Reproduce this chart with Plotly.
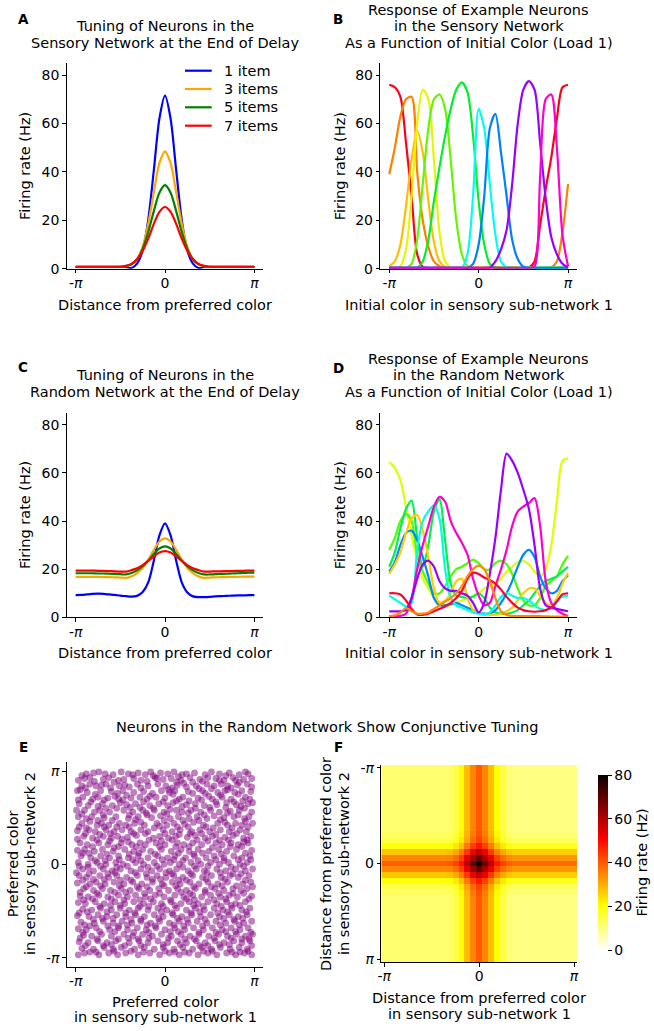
import plotly.graph_objects as go

W, H = 654, 1031
FONT = "DejaVu Sans"

# ---------------- data (angles in units of pi) ----------------
X = [-1.0, -0.9375, -0.875, -0.8125, -0.75, -0.6875, -0.625, -0.5625, -0.5, -0.4375,
     -0.375, -0.3125, -0.25, -0.1875, -0.125, -0.0625, 0.0, 0.0625, 0.125, 0.1875,
     0.25, 0.3125, 0.375, 0.4375, 0.5, 0.5625, 0.625, 0.6875, 0.75, 0.8125, 0.875, 0.9375, 1.0]

load_names = ["1 item", "3 items", "5 items", "7 items"]
load_colors = ["#0000FF", "#FFA500", "#008000", "#FF0000"]

A_1 = [0.7, 0.7, 0.7, 0.7, 0.7, 0.7, 0.7, 0.7, 0.7, 0.7, 0.3, 2.1, 7.5, 20.2, 40.7, 62, 71.5,
       62, 40.7, 20.2, 7.5, 2.1, 0.3, 0.7, 0.7, 0.7, 0.7, 0.7, 0.7, 0.7, 0.7, 0.7, 0.7]
A_3 = [0.8, 0.8, 0.8, 0.8, 0.8, 0.8, 0.8, 0.8, 0.8, 1.0, 1.7, 4.0, 9.1, 18.6, 31.6, 43.6, 48.5,
       43.6, 31.6, 18.6, 9.1, 4.0, 1.7, 1.0, 0.8, 0.8, 0.8, 0.8, 0.8, 0.8, 0.8, 0.8, 0.8]
A_5 = [0.8, 0.8, 0.8, 0.8, 0.8, 0.8, 0.8, 0.8, 0.8, 1.1, 1.9, 3.9, 8.2, 15.1, 23.8, 31.4, 34.5,
       31.4, 23.8, 15.1, 8.2, 3.9, 1.9, 1.1, 0.8, 0.8, 0.8, 0.8, 0.8, 0.8, 0.8, 0.8, 0.8]
A_7 = [0.8, 0.8, 0.8, 0.8, 0.8, 0.8, 0.8, 0.8, 0.8, 1.2, 2.0, 3.9, 7.3, 12.4, 18.5, 23.5, 25.5,
       23.5, 18.5, 12.4, 7.3, 3.9, 2.0, 1.2, 0.8, 0.8, 0.8, 0.8, 0.8, 0.8, 0.8, 0.8, 0.8]

C_1 = [9.2, 9.3, 9.5, 9.7, 9.8, 9.7, 9.5, 9.3, 9.0, 8.8, 8.6, 8.9, 10.5, 14.5, 23.5, 34, 39,
       34, 23.5, 14.5, 10.3, 8.7, 8.4, 8.4, 8.5, 8.7, 8.8, 8.9, 9.0, 9.1, 9.1, 9.2, 9.2]
C_3 = [16.8, 16.8, 16.8, 16.8, 16.8, 16.7, 16.7, 16.6, 16.5, 16.4, 17.0, 18.4, 20.5, 24.0, 28.0, 31.5, 32.8,
       31.5, 28.0, 24.0, 20.5, 18.4, 17.0, 16.4, 16.5, 16.6, 16.7, 16.7, 16.8, 16.8, 16.9, 16.9, 16.9]
C_5 = [18.3, 18.3, 18.3, 18.3, 18.2, 18.2, 18.1, 18.0, 17.9, 17.8, 18.4, 19.5, 21.2, 23.5, 26.3, 28.6, 29.5,
       28.6, 26.3, 23.5, 21.2, 19.5, 18.4, 17.8, 17.8, 17.9, 18.0, 18.1, 18.2, 18.3, 18.4, 18.5, 18.6]
C_7 = [19.4, 19.4, 19.4, 19.4, 19.3, 19.3, 19.2, 19.1, 19.0, 19.0, 19.6, 20.4, 21.7, 23.4, 25.3, 26.9, 27.5,
       26.9, 25.3, 23.4, 21.7, 20.4, 19.6, 19.0, 19.0, 19.1, 19.1, 19.2, 19.2, 19.3, 19.3, 19.4, 19.4]

# Panel B: example sensory neurons
B_colors = ["#FF0019", "#FF8000", "#FFBF00", "#E6F500", "#66F500", "#00F02A",
            "#00FFF0", "#0080FF", "#9900FF", "#FF00CC"]
B_red = [76, 75, 71, 52, 30, 6, 0.8, 0.3, 0.3, 0.3, 0.3, 0.3, 0.3, 0.3, 0.3, 0.3, 0.3,
         0.3, 0.3, 0.3, 0.3, 0.3, 0.3, 0.3, 0.3, 0.5, 3, 18, 33, 46, 62, 75, 76]
B_orange = [39, 50, 63, 70, 71, 40, 20, 9, 3, 1, 0.4, 0.3, 0.3, 0.3, 0.3, 0.3, 0.3,
            0.3, 0.3, 0.3, 0.3, 0.3, 0.3, 0.3, 0.3, 0.3, 0.3, 0.3, 0.3, 0.5, 3, 15, 35]
B_gold = [1, 3, 10, 26, 45, 57, 48, 28, 11, 3, 0.8, 0.3, 0.3, 0.3, 0.3, 0.3, 0.3,
          0.3, 0.3, 0.3, 0.3, 0.3, 0.3, 0.3, 0.3, 0.3, 0.3, 0.3, 0.3, 0.3, 0.5, 0.8, 1]
B_yellow = [0.3, 0.3, 1, 8, 30, 60, 74, 70, 45, 15, 3, 0.5, 0.3, 0.3, 0.3, 0.3, 0.3,
            0.3, 0.3, 0.3, 0.3, 0.3, 0.3, 0.3, 0.3, 0.3, 0.3, 0.3, 0.3, 0.3, 0.3, 0.3, 0.3]
B_lime = [0.3, 0.3, 0.3, 0.3, 2, 12, 35, 58, 70, 72, 66, 45, 20, 6, 1, 0.3, 0.3,
          0.3, 0.3, 0.3, 0.3, 0.3, 0.3, 0.3, 0.3, 0.3, 0.3, 0.3, 0.3, 0.3, 0.3, 0.3, 0.3]
B_green = [0.3, 0.3, 0.3, 0.3, 0.3, 0.5, 3, 12, 28, 42, 55, 66, 74, 77, 73, 55, 28,
           10, 2, 0.5, 0.3, 0.3, 0.3, 0.3, 0.3, 0.3, 0.3, 0.3, 0.3, 0.3, 0.3, 0.3, 0.3]
B_cyan = [0.3, 0.3, 0.3, 0.3, 0.3, 0.3, 0.3, 0.3, 0.3, 0.3, 0.3, 0.3, 0.3, 0.5, 6, 30, 66,
          58, 35, 14, 3, 0.5, 0.3, 0.3, 0.3, 0.3, 0.3, 0.3, 0.3, 0.3, 0.3, 0.3, 0.3]
B_azure = [0.3, 0.3, 0.3, 0.3, 0.3, 0.3, 0.3, 0.3, 0.3, 0.3, 0.3, 0.3, 0.3, 0.3, 0.3, 2, 10,
           30, 58, 64, 48, 30, 12, 4, 0.8, 0.3, 0.3, 0.3, 0.3, 0.3, 0.3, 0.3, 0.3]
B_violet = [0.3, 0.3, 0.3, 0.3, 0.3, 0.3, 0.3, 0.3, 0.3, 0.3, 0.3, 0.3, 0.3, 0.3, 0.3, 0.3, 0.3,
            0.3, 0.5, 3, 8, 16, 35, 60, 74, 77.5, 74, 52, 29, 13, 6, 2, 0.5]
B_magenta = [0.3, 0.3, 0.3, 0.3, 0.3, 0.3, 0.3, 0.3, 0.3, 0.3, 0.3, 0.3, 0.3, 0.3, 0.3, 0.3, 0.3,
             0.3, 0.3, 0.3, 0.3, 0.3, 0.3, 0.3, 0.3, 0.3, 1, 38, 70, 72, 50, 14, 1]
B_series = [B_red, B_orange, B_gold, B_yellow, B_lime, B_green, B_cyan, B_azure, B_violet, B_magenta]

# Panel D: example random-network neurons
D_colors = ["#DDFF00", "#4CFF00", "#00F050", "#0088FF", "#FFCC00", "#00FFE0",
            "#FF00CC", "#9900FF", "#FF0033", "#FF8800"]
D_ylime = [64.5, 62, 57, 46, 34, 24, 16, 12, 8, 6, 5, 5, 6, 7, 8, 9, 10,
           12, 13, 14, 16, 19, 21, 23, 23.5, 22, 19, 17, 20, 30, 48, 65, 66]
D_greenA = [28, 33, 40, 43, 40, 26, 19, 14, 10, 10, 13, 17, 20, 21, 22.5, 24, 22.5,
            20, 20, 22.5, 23.5, 22, 18, 12, 7, 5, 5, 8, 13, 15, 17, 22, 25.5]
D_greenB = [21, 27, 37, 45, 48.5, 33, 21, 30, 44, 49, 32, 14, 9, 8.5, 8, 8.5, 10,
            8, 4, 2, 1.5, 1.5, 2, 3, 5, 7, 10, 13, 15, 16, 17, 19, 21]
D_azure = [19, 23, 30, 35, 36, 32, 25, 17, 8, 5, 5, 5.5, 6, 5, 4, 3, 2,
           1.5, 1.5, 3, 6, 10, 15, 21, 26, 28, 25, 17, 12, 10, 11, 15, 17.5]
D_gold = [18, 22, 27, 35, 41, 42.5, 36, 25, 12, 6, 7, 10, 15, 16, 8, 3, 2,
          1, 1, 1, 1.5, 2.5, 4, 7, 10, 12, 12, 9, 6, 5, 8, 14, 18.5]
D_cyan = [9, 7.5, 6, 4.5, 6, 28, 40, 44, 46.5, 41, 20, 8, 5, 4, 3, 2, 1.5,
          1.2, 2, 5, 8.5, 10, 9, 8, 8, 7, 5, 3.5, 3, 4, 7, 8.5, 9]
D_magenta = [0.5, 0.5, 0.6, 1.5, 8, 20, 30, 38, 46, 50, 48, 40, 35, 31, 26, 16, 9,
             5, 6, 13, 20, 28, 38, 44, 46, 47.5, 49.5, 38, 15, 6, 3, 1.5, 0.5]
D_violet = [2.5, 2.5, 2.5, 3, 8, 16, 22, 23.5, 21, 15, 12, 11, 11, 10, 9, 6, 2,
            6, 18, 33, 53, 68, 65, 60, 53, 45, 30, 12, 5, 4, 3.5, 3, 2.5]
D_red = [10, 10, 9.5, 7, 3.5, 1.2, 1, 1.5, 2.5, 3.5, 4.5, 6, 8, 11, 16, 18.5, 18,
         16.5, 15.5, 14, 11.5, 8.5, 6, 4, 3, 2.5, 2.3, 2.5, 3, 4, 6.5, 9.5, 10]
D_orange = [0.5, 0.8, 2, 3.8, 2.5, 1.5, 1.5, 2, 3.5, 5, 6.5, 8, 10, 13, 17, 20, 21.5,
            20, 15, 8, 2.5, 1, 0.6, 0.5, 0.5, 0.5, 0.5, 0.5, 0.4, 0.3, 0.3, 0.3, 0.3]
D_series = [D_ylime, D_greenA, D_greenB, D_azure, D_gold, D_cyan, D_magenta, D_violet, D_red, D_orange]

# Panel E: preferred colours (sub-network 1, sub-network 2), units of pi
E_pts = [
(-0.88,0.97),(-0.80,0.98),(-0.74,0.99),(-0.58,0.96),(-0.49,0.99),(-0.41,0.97),(-0.30,0.98),(-0.22,0.96),(-0.16,0.99),(-0.05,0.98),(0.03,0.97),(0.10,0.99),(0.24,0.97),(0.33,0.98),(0.45,0.96),(0.52,0.99),(0.61,0.97),(0.72,0.98),(0.83,0.96),(0.93,0.97),
(-0.97,0.90),(-0.90,0.92),(-0.69,0.91),(-0.63,0.93),(-0.52,0.90),(-0.35,0.92),(-0.27,0.90),(-0.11,0.93),(-0.02,0.91),(0.07,0.92),(0.18,0.90),(0.28,0.93),(0.39,0.91),(0.57,0.92),(0.66,0.90),(0.76,0.93),(0.88,0.91),(0.97,0.92),
(-0.93,0.84),(-0.84,0.86),(-0.77,0.84),(-0.66,0.86),(-0.45,0.85),(-0.40,0.83),(-0.31,0.86),(-0.19,0.84),(-0.08,0.86),(0.01,0.84),(0.14,0.85),(0.21,0.87),(0.35,0.84),(0.47,0.86),(0.55,0.84),(0.63,0.86),(0.70,0.84),(0.81,0.85),(0.92,0.86),
(-0.98,0.79),(-0.87,0.77),(-0.72,0.79),(-0.60,0.78),(-0.53,0.76),(-0.47,0.79),(-0.24,0.78),(-0.14,0.76),(-0.04,0.79),(0.05,0.77),(0.11,0.79),(0.26,0.78),(0.31,0.76),(0.42,0.79),(0.59,0.77),(0.67,0.79),(0.78,0.77),(0.86,0.79),(0.96,0.78),
(-0.92,0.72),(-0.81,0.70),(-0.75,0.72),(-0.64,0.71),(-0.56,0.73),(-0.38,0.71),(-0.28,0.72),(-0.20,0.70),(-0.10,0.72),(0.00,0.71),(0.16,0.70),(0.20,0.72),(0.37,0.71),(0.49,0.73),(0.53,0.70),(0.64,0.72),(0.74,0.70),(0.90,0.72),(0.95,0.70),
(-0.96,0.65),(-0.86,0.63),(-0.70,0.65),(-0.59,0.63),(-0.50,0.66),(-0.43,0.64),(-0.33,0.65),(-0.17,0.63),(-0.07,0.65),(0.03,0.63),(0.09,0.66),(0.24,0.64),(0.34,0.65),(0.44,0.63),(0.58,0.64),(0.69,0.66),(0.80,0.64),(0.85,0.62),(0.93,0.65),
(-0.90,0.58),(-0.79,0.56),(-0.73,0.58),(-0.62,0.56),(-0.46,0.58),(-0.36,0.56),(-0.25,0.58),(-0.21,0.55),(-0.12,0.58),(-0.01,0.56),(0.13,0.58),(0.19,0.56),(0.29,0.58),(0.40,0.56),(0.51,0.58),(0.61,0.56),(0.73,0.57),(0.83,0.58),(0.97,0.56),
(-0.97,0.51),(-0.88,0.49),(-0.82,0.51),(-0.68,0.50),(-0.55,0.51),(-0.41,0.49),(-0.30,0.51),(-0.15,0.50),(-0.05,0.52),(0.06,0.49),(0.15,0.51),(0.27,0.49),(0.36,0.51),(0.47,0.49),(0.55,0.52),(0.66,0.50),(0.77,0.51),(0.89,0.49),(0.94,0.51),
(-0.93,0.44),(-0.76,0.42),(-0.71,0.44),(-0.63,0.42),(-0.51,0.44),(-0.44,0.42),(-0.34,0.44),(-0.23,0.42),(-0.09,0.44),(0.02,0.42),(0.10,0.44),(0.22,0.43),(0.32,0.45),(0.43,0.42),(0.59,0.44),(0.70,0.42),(0.79,0.44),(0.86,0.42),(0.98,0.44),
(-0.98,0.36),(-0.85,0.37),(-0.78,0.35),(-0.66,0.37),(-0.57,0.35),(-0.48,0.37),(-0.38,0.35),(-0.27,0.37),(-0.19,0.35),(-0.02,0.37),(0.08,0.35),(0.17,0.37),(0.30,0.35),(0.39,0.37),(0.50,0.35),(0.62,0.37),(0.72,0.35),(0.84,0.37),(0.91,0.35),
(-0.91,0.30),(-0.81,0.28),(-0.69,0.30),(-0.60,0.28),(-0.53,0.30),(-0.42,0.29),(-0.32,0.31),(-0.13,0.28),(-0.06,0.30),(0.04,0.28),(0.12,0.30),(0.25,0.29),(0.34,0.31),(0.45,0.28),(0.53,0.30),(0.67,0.29),(0.76,0.31),(0.88,0.28),(0.96,0.30),
(-0.95,0.23),(-0.87,0.21),(-0.74,0.23),(-0.64,0.21),(-0.49,0.23),(-0.37,0.21),(-0.28,0.23),(-0.22,0.21),(-0.10,0.23),(0.00,0.21),(0.14,0.23),(0.21,0.21),(0.31,0.23),(0.41,0.21),(0.57,0.23),(0.64,0.21),(0.74,0.23),(0.82,0.21),(0.93,0.23),
(-0.98,0.15),(-0.90,0.16),(-0.79,0.14),(-0.70,0.16),(-0.58,0.14),(-0.45,0.16),(-0.35,0.14),(-0.25,0.16),(-0.16,0.14),(-0.04,0.16),(0.07,0.14),(0.18,0.16),(0.27,0.14),(0.37,0.16),(0.49,0.14),(0.60,0.16),(0.69,0.14),(0.80,0.16),(0.97,0.15),
(-0.94,0.09),(-0.83,0.07),(-0.72,0.09),(-0.62,0.07),(-0.52,0.09),(-0.41,0.07),(-0.30,0.09),(-0.19,0.07),(-0.08,0.09),(0.03,0.07),(0.11,0.09),(0.23,0.07),(0.33,0.09),(0.46,0.07),(0.55,0.09),(0.66,0.07),(0.77,0.09),(0.86,0.07),(0.95,0.09),
(-0.97,0.02),(-0.86,0.00),(-0.76,0.02),(-0.66,0.00),(-0.55,0.02),(-0.47,0.00),(-0.33,0.02),(-0.24,0.00),(-0.12,0.02),(-0.01,0.00),(0.06,0.02),(0.16,0.00),(0.29,0.02),(0.40,0.00),(0.51,0.02),(0.61,0.00),(0.71,0.02),(0.84,0.00),(0.92,0.02),
(-0.92,-0.05),(-0.80,-0.07),(-0.69,-0.05),(-0.59,-0.07),(-0.50,-0.05),(-0.38,-0.07),(-0.27,-0.05),(-0.15,-0.07),(-0.06,-0.05),(0.05,-0.07),(0.13,-0.05),(0.26,-0.07),(0.35,-0.05),(0.44,-0.07),(0.58,-0.05),(0.68,-0.07),(0.79,-0.05),(0.90,-0.07),(0.98,-0.05),
(-0.96,-0.12),(-0.88,-0.14),(-0.73,-0.12),(-0.63,-0.14),(-0.54,-0.12),(-0.43,-0.14),(-0.31,-0.12),(-0.20,-0.14),(-0.09,-0.12),(0.01,-0.14),(0.10,-0.12),(0.20,-0.14),(0.31,-0.12),(0.42,-0.14),(0.52,-0.12),(0.63,-0.14),(0.73,-0.12),(0.82,-0.14),(0.94,-0.12),
(-0.98,-0.20),(-0.84,-0.21),(-0.77,-0.19),(-0.67,-0.21),(-0.57,-0.19),(-0.46,-0.21),(-0.36,-0.19),(-0.26,-0.21),(-0.14,-0.19),(-0.03,-0.21),(0.08,-0.19),(0.17,-0.21),(0.28,-0.19),(0.38,-0.21),(0.48,-0.19),(0.59,-0.21),(0.70,-0.19),(0.87,-0.21),(0.96,-0.19),
(-0.91,-0.26),(-0.80,-0.28),(-0.70,-0.26),(-0.61,-0.28),(-0.49,-0.26),(-0.39,-0.28),(-0.29,-0.26),(-0.17,-0.28),(-0.07,-0.26),(0.04,-0.28),(0.14,-0.26),(0.24,-0.28),(0.34,-0.26),(0.45,-0.28),(0.56,-0.26),(0.66,-0.28),(0.76,-0.26),(0.85,-0.28),(0.92,-0.26),
(-0.95,-0.34),(-0.86,-0.35),(-0.74,-0.33),(-0.64,-0.35),(-0.52,-0.33),(-0.42,-0.35),(-0.33,-0.33),(-0.22,-0.35),(-0.11,-0.33),(-0.01,-0.35),(0.11,-0.33),(0.21,-0.35),(0.31,-0.33),(0.41,-0.35),(0.51,-0.33),(0.62,-0.35),(0.72,-0.33),(0.81,-0.35),(0.97,-0.34),
(-0.97,-0.41),(-0.89,-0.42),(-0.78,-0.40),(-0.68,-0.42),(-0.56,-0.40),(-0.45,-0.42),(-0.35,-0.40),(-0.24,-0.42),(-0.13,-0.40),(-0.04,-0.42),(0.07,-0.40),(0.18,-0.42),(0.27,-0.40),(0.37,-0.42),(0.48,-0.40),(0.58,-0.42),(0.69,-0.40),(0.79,-0.42),(0.90,-0.40),
(-0.92,-0.48),(-0.82,-0.49),(-0.72,-0.47),(-0.60,-0.49),(-0.50,-0.47),(-0.40,-0.49),(-0.30,-0.47),(-0.19,-0.49),(-0.08,-0.47),(0.02,-0.49),(0.13,-0.47),(0.24,-0.49),(0.34,-0.47),(0.44,-0.49),(0.55,-0.47),(0.65,-0.49),(0.75,-0.47),(0.86,-0.49),(0.95,-0.47),
(-0.98,-0.55),(-0.85,-0.56),(-0.75,-0.54),(-0.65,-0.56),(-0.54,-0.54),(-0.44,-0.56),(-0.33,-0.54),(-0.23,-0.56),(-0.12,-0.54),(-0.02,-0.56),(0.09,-0.54),(0.19,-0.56),(0.30,-0.54),(0.40,-0.56),(0.51,-0.54),(0.61,-0.56),(0.72,-0.54),(0.82,-0.56),(0.92,-0.54),
(-0.94,-0.62),(-0.79,-0.63),(-0.69,-0.61),(-0.58,-0.63),(-0.48,-0.61),(-0.37,-0.63),(-0.27,-0.61),(-0.16,-0.63),(-0.06,-0.61),(0.05,-0.63),(0.16,-0.61),(0.26,-0.63),(0.36,-0.61),(0.47,-0.63),(0.57,-0.61),(0.68,-0.63),(0.78,-0.61),(0.88,-0.63),(0.97,-0.61),
(-0.97,-0.69),(-0.88,-0.70),(-0.77,-0.68),(-0.62,-0.70),(-0.52,-0.68),(-0.42,-0.70),(-0.31,-0.68),(-0.21,-0.70),(-0.10,-0.68),(0.00,-0.70),(0.11,-0.68),(0.22,-0.70),(0.32,-0.68),(0.43,-0.70),(0.53,-0.68),(0.64,-0.70),(0.74,-0.68),(0.84,-0.70),(0.93,-0.68),
(-0.91,-0.76),(-0.82,-0.77),(-0.71,-0.75),(-0.60,-0.77),(-0.46,-0.75),(-0.36,-0.77),(-0.25,-0.75),(-0.14,-0.77),(-0.04,-0.75),(0.07,-0.77),(0.18,-0.75),(0.28,-0.77),(0.38,-0.75),(0.49,-0.77),(0.60,-0.75),(0.70,-0.77),(0.80,-0.75),(0.90,-0.77),(0.98,-0.75),
(-0.96,-0.83),(-0.86,-0.84),(-0.75,-0.82),(-0.65,-0.84),(-0.55,-0.82),(-0.40,-0.84),(-0.29,-0.82),(-0.19,-0.84),(-0.08,-0.82),(0.03,-0.84),(0.14,-0.82),(0.24,-0.84),(0.35,-0.82),(0.45,-0.84),(0.56,-0.82),(0.66,-0.84),(0.77,-0.82),(0.86,-0.84),(0.95,-0.82),
(-0.93,-0.90),(-0.80,-0.91),(-0.68,-0.89),(-0.58,-0.91),(-0.49,-0.89),(-0.34,-0.91),(-0.23,-0.89),(-0.12,-0.91),(-0.02,-0.89),(0.10,-0.91),(0.20,-0.89),(0.31,-0.91),(0.41,-0.89),(0.52,-0.91),(0.62,-0.89),(0.73,-0.91),(0.83,-0.89),(0.92,-0.91),
(-0.97,-0.97),(-0.90,-0.95),(-0.74,-0.97),(-0.63,-0.95),(-0.53,-0.97),(-0.44,-0.95),(-0.30,-0.97),(-0.17,-0.95),(-0.06,-0.97),(0.05,-0.95),(0.16,-0.97),(0.27,-0.95),(0.37,-0.97),(0.48,-0.95),(0.58,-0.97),(0.69,-0.95),(0.79,-0.97),(0.89,-0.95),(0.97,-0.97),
(-0.84,0.93),(-0.57,0.88),(-0.13,0.95),(0.15,0.94),(0.42,0.89),(0.79,0.90),(-0.95,0.80),(-0.61,0.82),(-0.35,0.77),(0.08,0.82),(0.38,0.81),(0.70,0.80),
(-0.83,0.67),(-0.47,0.69),(-0.02,0.67),(0.27,0.68),(0.57,0.67),(0.87,0.68),(-0.99,0.58),(-0.66,0.60),(-0.39,0.61),(0.06,0.59),(0.34,0.60),(0.68,0.61),
(-0.75,0.47),(-0.33,0.48),(-0.20,0.53),(0.20,0.47),(0.62,0.48),(0.82,0.53),(-0.88,0.39),(-0.54,0.40),(-0.12,0.39),(0.26,0.40),(0.54,0.39),(0.93,0.40),
(-0.73,0.32),(-0.22,0.33),(0.16,0.32),(0.41,0.33),(0.71,0.26),(-0.62,0.25),(-0.41,0.24),(-0.04,0.25),(0.48,0.25),(0.88,0.24),(-0.85,0.12),(-0.52,0.19),
(-0.29,0.12),(0.12,0.19),(0.42,0.12),(0.73,0.19),(-0.67,0.04),(-0.36,0.05),(-0.03,0.05),(0.20,0.04),(0.57,0.05),(0.96,0.05),(-0.86,-0.03),(-0.42,-0.02),
(-0.19,-0.03),(0.33,-0.02),(0.74,-0.03),(-0.99,-0.09),(-0.64,-0.10),(-0.33,-0.09),(0.08,-0.10),(0.47,-0.09),(0.85,-0.10),(-0.80,-0.16),(-0.50,-0.17),(-0.05,-0.16),
(0.24,-0.17),(0.67,-0.16),(-0.72,-0.23),(-0.31,-0.24),(0.12,-0.23),(0.52,-0.24),(0.80,-0.23),(-0.95,-0.30),(-0.56,-0.30),(-0.23,-0.31),(0.18,-0.30),(0.60,-0.31),
(0.88,-0.31),(-0.81,-0.37),(-0.46,-0.38),(-0.16,-0.37),(0.33,-0.38),(0.68,-0.37),(-0.61,-0.44),(-0.28,-0.45),(0.11,-0.44),(0.43,-0.45),(0.84,-0.44),(-0.87,-0.51),
(-0.44,-0.52),(-0.04,-0.51),(0.29,-0.52),(0.70,-0.51),(-0.70,-0.58),(-0.38,-0.59),(0.14,-0.58),(0.45,-0.59),(0.87,-0.58),(-0.90,-0.65),(-0.52,-0.66),(-0.20,-0.65),
(0.21,-0.66),(0.62,-0.65),(-0.73,-0.72),(-0.35,-0.73),(0.06,-0.72),(0.38,-0.73),(0.79,-0.72),(-0.95,-0.79),(-0.52,-0.80),(-0.18,-0.79),(0.22,-0.80),(0.55,-0.79),
(0.94,-0.80),(-0.69,-0.87),(-0.45,-0.87),(-0.02,-0.86),(0.39,-0.87),(0.72,-0.86),(-0.84,-0.94),(-0.38,-0.93),(0.11,-0.94),(0.53,-0.93),(0.84,-0.94),
(-0.93,0.95),(-0.67,0.97),(-0.36,0.96),(-0.09,0.92),(0.19,0.96),(0.48,0.93),(0.68,0.95),(0.90,0.99),
(-0.79,0.89),(-0.46,0.91),(-0.20,0.89),(0.13,0.88),(0.31,0.88),(0.61,0.90),(0.83,0.88),
(-0.89,0.82),(-0.71,0.85),(-0.51,0.84),(-0.27,0.82),(0.04,0.80),(0.24,0.83),(0.52,0.81),(0.74,0.82),(0.97,0.83),
(-0.78,0.75),(-0.43,0.74),(-0.17,0.73),(0.09,0.75),(0.45,0.76),(0.62,0.74),(0.82,0.75),
(-0.97,0.69),(-0.68,0.69),(-0.52,0.70),(-0.24,0.67),(0.13,0.68),(0.41,0.69),(0.77,0.67),(0.98,0.66),
(-0.75,0.62),(-0.54,0.60),(-0.28,0.61),(-0.13,0.60),(0.19,0.62),(0.50,0.61),(0.89,0.60),
(-0.93,0.54),(-0.69,0.53),(-0.40,0.53),(0.02,0.54),(0.26,0.55),(0.44,0.53),(0.70,0.55),
(-0.84,0.46),(-0.59,0.47),(-0.27,0.45),(-0.01,0.47),(0.38,0.47),(0.67,0.45),(0.90,0.46),
(-0.96,0.40),(-0.68,0.40),(-0.40,0.40),(-0.06,0.41),(0.14,0.40),(0.46,0.40),(0.75,0.39),
(-0.89,0.33),(-0.61,0.33),(-0.35,0.33),(0.00,0.33),(0.28,0.33),(0.57,0.32),(0.80,0.33),
(-0.98,0.27),(-0.76,0.26),(-0.48,0.27),(-0.18,0.26),(0.08,0.26),(0.36,0.26),(0.61,0.26),(0.92,0.26),
(-0.81,0.19),(-0.57,0.18),(-0.32,0.19),(-0.06,0.19),(0.27,0.19),(0.53,0.18),(0.86,0.19),
(-0.92,0.12),(-0.65,0.11),(-0.40,0.11),(-0.11,0.11),(0.15,0.12),(0.32,0.11),(0.63,0.11),(0.90,0.12),
(-0.78,0.04),(-0.51,0.05),(-0.27,0.04),(0.10,0.05),(0.37,0.04),(0.66,0.04),(0.82,0.05),
(-0.96,-0.02),(-0.72,-0.02),(-0.54,-0.03),(-0.09,-0.02),(0.20,-0.03),(0.48,-0.02),(0.88,-0.02),
(-0.85,-0.10),(-0.56,-0.09),(-0.21,-0.10),(0.01,-0.09),(0.29,-0.10),(0.62,-0.09),(0.76,-0.10),
(-0.92,-0.17),(-0.68,-0.16),(-0.38,-0.17),(-0.14,-0.16),(0.15,-0.17),(0.46,-0.16),(0.90,-0.17),
(-0.88,-0.24),(-0.51,-0.23),(-0.20,-0.24),(-0.01,-0.23),(0.32,-0.24),(0.64,-0.23),(0.98,-0.24),
(-0.76,-0.31),(-0.44,-0.30),(-0.06,-0.31),(0.28,-0.31),(0.45,-0.30),(0.76,-0.31),
(-0.91,-0.38),(-0.60,-0.37),(-0.28,-0.38),(0.06,-0.38),(0.24,-0.37),(0.55,-0.38),(0.94,-0.37),
(-0.73,-0.45),(-0.50,-0.44),(-0.18,-0.45),(-0.02,-0.45),(0.32,-0.44),(0.63,-0.45),(0.74,-0.44),
(-0.96,-0.52),(-0.65,-0.51),(-0.34,-0.52),(0.08,-0.52),(0.39,-0.51),(0.59,-0.52),(0.91,-0.51),
(-0.80,-0.59),(-0.58,-0.58),(-0.27,-0.59),(-0.07,-0.58),(0.25,-0.59),(0.66,-0.58),(0.77,-0.59),
(-0.84,-0.66),(-0.64,-0.66),(-0.42,-0.65),(-0.11,-0.66),(0.10,-0.65),(0.42,-0.66),(0.83,-0.65),
(-0.92,-0.73),(-0.56,-0.72),(-0.18,-0.73),(0.15,-0.72),(0.57,-0.73),(0.68,-0.72),(0.96,-0.73),
(-0.76,-0.80),(-0.41,-0.79),(-0.30,-0.80),(0.04,-0.79),(0.33,-0.80),(0.74,-0.79),(0.86,-0.80),
(-0.89,-0.87),(-0.60,-0.86),(-0.27,-0.87),(0.17,-0.86),(0.48,-0.87),(0.61,-0.86),(0.97,-0.87),
(-0.77,-0.94),(-0.57,-0.93),(-0.24,-0.94),(0.00,-0.93),(0.22,-0.94),(0.43,-0.93),(0.75,-0.94),(0.93,-0.93),
]
E_x = [p[0] for p in E_pts]
E_y = [p[1] for p in E_pts]

# Panel F: conjunctive tuning map (rows = sub-network 2 offset, cols = sub-network 1 offset)
F_r6 = [11.5]*11 + [12, 15, 20, 28, 35, 40, 35, 28, 20, 15, 11] + [10]*11
F_r5 = [12.5]*11 + [13, 16, 21, 29, 36, 41, 36, 29, 21, 16, 12] + [11]*11
F_r4 = [14.5]*11 + [15, 18, 23, 31, 38, 43, 38, 31, 23, 18, 14.5] + [13]*11
F_r3 = [19.5]*11 + [20, 23, 28, 36, 43, 48, 43, 36, 28, 23, 19.5] + [18]*11
F_r2 = [27.5]*11 + [28, 31, 36, 44, 53, 59, 53, 44, 36, 31, 27.5] + [26]*11
F_r1 = [34.5]*11 + [35, 38, 43, 53, 62, 69, 62, 53, 43, 38, 34.5] + [33]*11
F_r0 = [39.5]*11 + [40, 43, 48, 59, 69, 80, 69, 59, 48, 43, 39.5] + [38]*11
F_z = [F_r6]*10 + [F_r6, F_r5, F_r4, F_r3, F_r2, F_r1, F_r0, F_r1, F_r2, F_r3, F_r4, F_r5, F_r6] + [F_r6]*10

PI_VALS = [-1, 0, 1]
PI_TEXT = ["-<i>π</i>", "0", "<i>π</i>"]
HZ_TICKS = [0, 20, 40, 60, 80]

# ---------------- layout helpers ----------------
def px(x):
    return x / W

def py(y):
    return 1 - y / H

def axis_style(**kw):
    d = dict(showline=True, linecolor="black", linewidth=1, ticks="outside", ticklen=3.5,
             tickwidth=1, tickcolor="black", showgrid=False, zeroline=False,
             tickfont=dict(family=FONT, size=14, color="black"))
    d.update(kw)
    return d

fig = go.Figure()

# A
for name, col, vals in zip(load_names, load_colors, [A_1, A_3, A_5, A_7]):
    fig.add_trace(go.Scatter(x=X, y=vals, mode="lines", name=name,
                             line=dict(color=col, width=2.2, shape="spline", smoothing=0.8),
                             xaxis="x", yaxis="y", showlegend=False))
# C
for name, col, vals in zip(load_names, load_colors, [C_1, C_3, C_5, C_7]):
    fig.add_trace(go.Scatter(x=X, y=vals, mode="lines", name=name,
                             line=dict(color=col, width=2.2, shape="spline", smoothing=0.8),
                             xaxis="x3", yaxis="y3", showlegend=False))
# B
for col, vals in zip(B_colors, B_series):
    fig.add_trace(go.Scatter(x=X, y=vals, mode="lines",
                             line=dict(color=col, width=2.2, shape="spline", smoothing=0.8),
                             xaxis="x2", yaxis="y2", showlegend=False))
# D
for col, vals in zip(D_colors, D_series):
    fig.add_trace(go.Scatter(x=X, y=vals, mode="lines",
                             line=dict(color=col, width=2.2, shape="spline", smoothing=0.8),
                             xaxis="x4", yaxis="y4", showlegend=False))
# E
fig.add_trace(go.Scatter(x=E_x, y=E_y, mode="markers",
                         marker=dict(color="#800080", size=6.8, opacity=0.5, line=dict(width=0)),
                         xaxis="x5", yaxis="y5", showlegend=False))
# F
hot_r = [[0.0, "rgb(255,255,255)"], [0.254, "rgb(255,255,0)"],
         [0.635, "rgb(255,0,0)"], [1.0, "rgb(10,0,0)"]]
fig.add_trace(go.Heatmap(x=X, y=X, z=F_z, zmin=0, zmax=80, colorscale=hot_r,
                         xaxis="x6", yaxis="y6",
                         colorbar=dict(x=px(588), xanchor="left", y=py(862.5), yanchor="middle",
                                       len=195 / H, lenmode="fraction", thickness=10,
                                       thicknessmode="pixels", outlinewidth=0,
                                       tickvals=HZ_TICKS, ticks="outside", ticklen=4,
                                       tickcolor="black",
                                       tickfont=dict(family=FONT, size=14, color="black"))))

xa = dict(range=[-1.1, 1.1], tickvals=PI_VALS, ticktext=PI_TEXT, ticklabelstandoff=-2)
ya = dict(range=[0, 85], tickvals=HZ_TICKS)
top = [py(268.7), py(63)]
mid = [py(617.3), py(412.7)]
left = [px(66.7), px(263.3)]
right = [px(380.3), px(577)]

fig.update_layout(
    width=W, height=H, margin=dict(l=0, r=0, t=0, b=0, autoexpand=False),
    paper_bgcolor="white", plot_bgcolor="white", showlegend=False,
    font=dict(family=FONT, size=14.5, color="black"),
    xaxis=axis_style(domain=left, anchor="y", **xa),
    yaxis=axis_style(domain=top, anchor="x", **ya),
    xaxis2=axis_style(domain=right, anchor="y2", **xa),
    yaxis2=axis_style(domain=top, anchor="x2", **ya),
    xaxis3=axis_style(domain=left, anchor="y3", **xa),
    yaxis3=axis_style(domain=mid, anchor="x3", **ya),
    xaxis4=axis_style(domain=right, anchor="y4", **xa),
    yaxis4=axis_style(domain=mid, anchor="x4", **ya),
    xaxis5=axis_style(domain=left, anchor="y5", **xa),
    yaxis5=axis_style(domain=[py(967), py(761.7)], anchor="x5", range=[-1.1, 1.1],
                      tickvals=PI_VALS, ticktext=PI_TEXT),
    xaxis6=axis_style(domain=[px(381.3), px(577)], anchor="y6", range=[-1.03125, 1.03125],
                      tickvals=PI_VALS, ticktext=PI_TEXT, ticklabelstandoff=-2),
    yaxis6=axis_style(domain=[py(962), py(765)], anchor="x6", range=[1.03125, -1.03125],
                      tickvals=PI_VALS, ticktext=PI_TEXT),
)

ann = []
def text(x, y, s, size=14.5, angle=0, bold=False, anchor="center"):
    ann.append(dict(x=px(x), y=py(y), xref="paper", yref="paper", text=(f"<b>{s}</b>" if bold else s),
                    showarrow=False, xanchor=anchor, yanchor="middle", textangle=angle,
                    font=dict(family=FONT, size=size, color="black")))

# titles
text(165, 26, "Tuning of Neurons in the")
text(165, 42.7, "Sensory Network at the End of Delay")
text(478.7, 10, "Response of Example Neurons")
text(478.7, 26, "in the Sensory Network")
text(478.7, 42.7, "As a Function of Initial Color (Load 1)")
text(165, 375, "Tuning of Neurons in the")
text(165, 391.7, "Random Network at the End of Delay")
text(478.7, 359, "Response of Example Neurons")
text(478.7, 375, "in the Random Network")
text(478.7, 391.7, "As a Function of Initial Color (Load 1)")
text(327, 727, "Neurons in the Random Network Show Conjunctive Tuning")
# axis labels
text(165, 305, "Distance from preferred color")
text(478.7, 305, "Initial color in sensory sub-network 1")
text(165, 653.3, "Distance from preferred color")
text(478.7, 653.3, "Initial color in sensory sub-network 1")
text(25, 166, "Firing rate (Hz)", angle=-90)
text(340.3, 166, "Firing rate (Hz)", angle=-90)
text(25, 515, "Firing rate (Hz)", angle=-90)
text(340.3, 515, "Firing rate (Hz)", angle=-90)
text(13.3, 864, "Preferred color", angle=-90)
text(30, 864, "in sensory sub-network 2", angle=-90)
text(165, 1001.7, "Preferred color")
text(165, 1017.3, "in sensory sub-network 1")
text(326, 864, "Distance from preferred color", angle=-90)
text(344, 864, "in sensory sub-network 2", angle=-90)
text(479.3, 998.3, "Distance from preferred color")
text(479.3, 1014, "in sensory sub-network 1")
text(641, 862.5, "Firing rate (Hz)", angle=-90)
# panel letters
for L, (x, y) in zip("ABCDEF", [(23, 19), (338, 19), (23, 367), (338, 368), (23, 747), (338, 747)]):
    text(x, y, L, size=13.5, bold=True)

# legend for panel A (drawn manually)
shapes = []
legend_rows = [70.7, 89, 107.3, 125.7]
for name, col, yy in zip(load_names, load_colors, legend_rows):
    shapes.append(dict(type="line", xref="paper", yref="paper", x0=px(185), x1=px(211.7),
                       y0=py(yy), y1=py(yy), line=dict(color=col, width=2.2)))
    text(221.7, yy, name, anchor="left")

fig.update_layout(annotations=ann, shapes=shapes)
fig.write_html("out.html",
               config={"displayModeBar": False, "staticPlot": True},
               post_script="document.body.style.margin='0';document.body.style.overflow='hidden';")
